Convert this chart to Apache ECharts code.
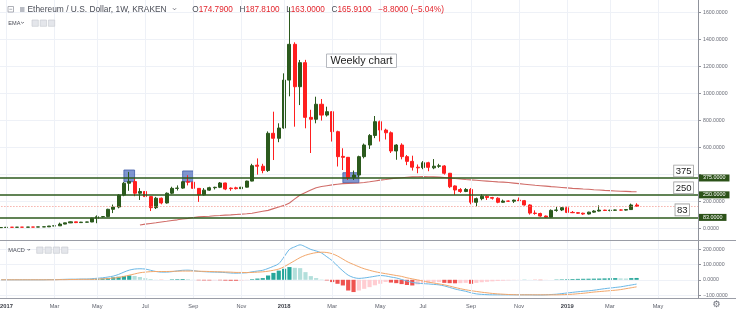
<!DOCTYPE html>
<html><head><meta charset="utf-8">
<script src="https://cdn.jsdelivr.net/npm/echarts@6.0.0/dist/echarts.min.js"></script>
<style>html,body{margin:0;padding:0;background:#fff;overflow:hidden}#c{width:736px;height:311px}</style>
</head><body><div id="c"></div>
<script>
// ---- categories: weekly bars (Mondays) ----
const firstWeek = Date.UTC(2016, 11, 26);
const weekCount = 131;
const categories = [];
for (let i = 0; i < weekCount; i++) {
  categories.push(new Date(firstWeek + i * 7 * 86400000).toISOString().slice(0, 10));
}

// ---- weekly OHLC ----
const opens = [7.2,8.2,10.2,9.7,10.6,10.5,11.4,11.3,12.8,13.1,
19.2,20.5,33.5,42.5,50,44.5,48,49,77,88,
89,143,160,248,336,348,262,275,237,155,
225,190,262,298,300,347,344,298,250,285,
303,306,338,300,302,296,307,352,470,462,
430,706,669,745,1100,1365,1051,1229,824,810,
921,841,866,718,535,528,378,397,533,619,
690,792,730,710,575,619,533,498,455,452,
488,450,462,464,410,316,290,275,290,195,
222,240,230,225,195,204,203,211,207,175,
115,112,93,85,135,138,155,120,118,114,
108,122,130,137,134,136,138,137,141,174.79];
const highs = [8.4,11.0,10.9,11.1,10.8,11.5,11.6,13.1,13.6,19.5,
21.0,44.0,43.0,53.0,50.5,50.0,50.0,80,98,92,
147,178,255,345,420,370,300,285,240,235,
230,268,310,320,352,395,350,300,300,310,
310,345,340,305,310,310,355,480,520,480,
720,866,780,1150,1640,1380,1249,1250,880,977,
960,903,870,725,595,530,430,540,630,700,
834,800,740,720,625,632,545,540,475,500,
495,515,480,470,412,320,300,300,300,230,
255,245,235,232,215,208,215,230,212,180,
135,118,97,142,160,160,162,130,122,118,
125,136,172,140,140,140,142,145,185,187.81];
const lows = [7.0,7.8,9.4,9.6,10.4,10.4,10.9,11.2,12.5,13.0,
17.5,20.0,32.0,41.0,41.0,41.5,46.0,48,40,83,
85,115,150,240,280,240,212,230,130,145,
180,185,255,282,295,320,285,198,245,280,
290,300,285,280,290,290,305,350,400,410,
420,508,640,740,980,755,915,743,560,780,
800,830,645,460,434,360,360,380,520,590,
670,645,660,560,510,513,470,430,410,440,
425,440,450,400,300,250,265,270,180,165,
210,212,215,188,192,198,190,205,170,104,
103,88,81,83,125,130,115,115,110,102,
105,118,127,130,128,131,133,133,139,163];
const closes = [8.2,10.2,9.7,10.6,10.5,11.4,11.3,12.8,13.1,19.2,
20.5,33.5,42.5,50.0,44.5,48.0,49.0,77,88,89,
143,160,248,336,348,262,275,237,155,225,
190,262,298,300,347,344,298,250,285,303,
306,338,293,296,296,307,352,466,462,430,
706,669,745,1100,1365,1051,1229,824,810,921,
841,866,718,533,528,375,397,533,619,690,
792,730,710,575,619,533,498,455,450,488,
454,462,465,410,310,286,275,290,195,222,
240,230,225,195,204,203,211,207,175,115,
112,93,85,135,138,155,120,118,114,108,
122,130,137,134,136,138,137,141,175,165.91];

// ---- EMA, starts at week 26 ----
const emaStart = 26;
const emaValues = [27,33,38,43,49,54,60,65,71,76,
82,87,90,92,95,97,100,102,105,107,
110,114,121,128,135,148,160,172,190,220,
249,268,286,303,312,318,324,329,333,335,
336,338,342,347,353,359,364,370,374,377,
380,383,384,385,384,383,381,378,375,371,
368,364,361,358,355,352,349,346,344,341,
337,333,329,325,321,318,315,311,308,305,
302,298,296,293,291,288,286,283,281,279,
277,276,274,273];

// ---- MACD pane ----
const macdLine = [0,0,0,0,0,0,0,0,0,1,
1,2,3,4,4,5,5,7,10,13,
18,24,35,50,63,70,72,70,62,54,
50,50,53,58,62,63,60,55,53,51,
50,49,47,44,43,44,46,52,57,62,
74,88,105,150,198,215,228,215,198,188,
175,150,125,90,58,30,15,9,12,17,
23,28,25,18,12,2,-8,-17,-22,-25,
-27,-30,-33,-40,-50,-60,-68,-75,-85,-92,
-95,-97,-98,-98,-98,-98,-98,-98,-98,-98,
-99,-99,-98,-96,-94,-90,-86,-82,-78,-75,
-72,-68,-63,-58,-54,-50,-46,-40,-34,-28];
const signalLine = [0,0,0,0,0,0,0,0,0,0,
0,1,1,2,2,3,3,3,4,6,
8,11,15,22,30,38,46,50,53,54,
54,54,55,56,57,57,57,56,55,54,
53,52,51,50,48,48,47,48,50,52,
56,62,70,85,105,125,145,160,170,177,
180,178,170,155,135,115,100,85,72,62,
53,46,40,34,28,22,13,6,-1,-8,
-15,-21,-27,-33,-41,-50,-58,-65,-71,-76,
-81,-85,-89,-92,-94,-96,-97,-98,-98,-98,
-98,-98,-98,-98,-98,-97,-96,-94,-91,-88,
-84,-80,-77,-74,-71,-68,-64,-58,-52,-46];
const histogram = [0,0,0,0,0,0,0,0,0,1,
1,1,2,2,1.5,1.5,2,4,6,9,
12,16,20,25,28,25,18,10,5,1,
-1,0,3,4,5,4,1,-3,-4,-4,
-3,-3,-5,-6,-6,-5,-2,4,8,11,
28,45,60,72,83,78,76,50,24,11,
2,-4,-15,-26,-37,-70,-80,-70,-59,-48,
-36,-26,-14,-18,-22,-28,-34,-37,-30,-24,
-20,-17,-15,-20,-22,-23,-22,-20,-26,-20,
-16,-13,-10,-8,-6,-4,-2,-1,1,0.5,
-1,-2,-1,0,2,3,4,5,6,6.5,
7,7.5,8,9,10,11,9,8,11,12];

// ---- ticks, levels, annotations ----
const tickDates = ['2017-01-02','2017-03-06','2017-05-01','2017-07-03','2017-09-04','2017-11-06','2018-01-01','2018-03-05','2018-05-07','2018-07-02','2018-09-03','2018-11-05','2019-01-07','2019-03-04','2019-05-06'];
const tickTexts = ['2017','Mar','May','Jul','Sep','Nov','2018','Mar','May','Jul','Sep','Nov','2019','Mar','May'];
const priceTicks = [0,200,400,600,800,1000,1200,1400,1600];
const priceLabels = [0,200,600,800,1000,1200,1400,1600];
const macdTicks = [-100,0,100,200];
const levels = [375, 250, 83];
const levelLabels = ['375', '250', '83'];
const lastClose = 165.91;
const boxFrom = ['2017-06-05','2017-08-21','2018-03-19'];
const boxTo = ['2017-06-19','2017-09-04','2018-04-09'];
const boxTop = [434, 427, 414];
const boxBottom = [347, 347, 340];

// ---- build ----
const FONT = 'Liberation Sans';
const candleData = opens.map((o, i) => [o, closes[i], lows[i], highs[i]]);
const emaData = categories.map((c, i) => (i >= emaStart && i - emaStart < emaValues.length) ? emaValues[i - emaStart] : null);
const vGrid = tickDates.map(d => ({ xAxis: d }));
const fmtPrice = v => (v < 0 ? '\u2212' + Math.abs(v).toFixed(4) : v.toFixed(4));

const levelMarks = [];
const boxDist = [[5, 1.5], [5, 1.5], [9, 2]];
levels.forEach((lv, k) => {
  levelMarks.push({
    yAxis: lv,
    lineStyle: { color: '#2c5a1c', width: 1.5, type: 'solid' },
    label: { show: true, position: 'end', formatter: lv.toFixed(4), color: '#fff',
      backgroundColor: '#2c5219', padding: [1.5, 4, 0.5, 4], fontSize: 5.4, fontFamily: FONT, distance: 1 }
  });
  levelMarks.push({
    yAxis: lv,
    lineStyle: { color: 'rgba(0,0,0,0)', width: 0 },
    label: { show: true, position: 'insideEndTop', formatter: levelLabels[k], color: '#222',
      backgroundColor: '#fff', borderColor: '#9a9a9a', borderWidth: 0.8, padding: [1, 1.5, 0, 1.5],
      fontSize: 9.5, fontFamily: FONT, distance: boxDist[k] }
  });
});
levelMarks.push({ yAxis: lastClose, lineStyle: { color: '#f28b82', type: [1, 2], width: 1 }, label: { show: false } });

const histColors = histogram.map((v, i) => {
  const p = i > 0 ? histogram[i - 1] : 0;
  if (v >= 0) return v >= p ? '#26a69a' : '#b2dfdb';
  return v <= p ? '#ef5350' : '#ffcdd2';
});

function chevron(x, y, w) {
  return { type: 'polyline', shape: { points: [[x, y], [x + w / 2, y + w / 2], [x + w, y]] }, style: { stroke: '#4a4d57', lineWidth: 0.8, fill: null }, z: 50 };
}
function iconBox(x, y) {
  return { type: 'rect', shape: { x: x, y: y, width: 6.3, height: 6.3 }, style: { fill: '#e4e6eb', stroke: '#c4c7ce', lineWidth: 0.6 }, z: 50 };
}

const chart = echarts.init(document.getElementById('c'), null, { renderer: 'canvas' });
const gridLine = { lineStyle: { color: '#eef1f7', width: 1, type: 'solid' }, symbol: ['none', 'none'], silent: true, label: { show: false }, animation: false };

chart.setOption({
  animation: false,
  backgroundColor: '#fff',
  textStyle: { fontFamily: FONT },
  grid: [
    { left: -1.6, width: 699.6, top: 0, height: 240, outerBoundsMode: 'none', containLabel: false },
    { left: -1.6, width: 699.6, top: 241, height: 57.5, outerBoundsMode: 'none', containLabel: false }
  ],
  xAxis: [
    { type: 'category', gridIndex: 0, data: categories, boundaryGap: true,
      axisLine: { show: false }, axisTick: { show: false }, axisLabel: { show: false }, splitLine: { show: false } },
    { type: 'category', gridIndex: 1, data: categories, boundaryGap: true,
      axisLine: { show: false }, axisTick: { show: false }, splitLine: { show: false },
      axisLabel: {
        show: true, margin: 5, fontSize: 5.6, color: '#5d606b', fontFamily: FONT,
        interval: (idx, val) => tickDates.indexOf(val) >= 0,
        formatter: val => { const t = tickTexts[tickDates.indexOf(val)]; return /^\d{4}$/.test(t) ? '{y|' + t + '}' : t; },
        rich: { y: { fontWeight: 'bold', fontSize: 5.8, color: '#3a3d46', fontFamily: FONT } }
      } }
  ],
  yAxis: [
    { type: 'value', gridIndex: 0, position: 'right', min: -84.4, max: 1693.3, scale: false,
      axisLine: { show: true, lineStyle: { color: '#8f929b', width: 1 } },
      axisTick: { show: true, length: 3, lineStyle: { color: '#8f929b' }, customValues: priceTicks },
      axisLabel: { show: true, margin: 5, fontSize: 5.2, color: '#6a6d78', fontFamily: FONT, customValues: priceLabels, formatter: fmtPrice },
      splitLine: { show: true, lineStyle: { color: '#eef1f7', width: 1 } } },
    { type: 'value', gridIndex: 1, position: 'right', min: -122, max: 253,
      axisLine: { show: true, lineStyle: { color: '#8f929b', width: 1 } },
      axisTick: { show: true, length: 3, lineStyle: { color: '#8f929b' }, customValues: macdTicks },
      axisLabel: { show: true, margin: 5, fontSize: 5.2, color: '#6a6d78', fontFamily: FONT, customValues: macdTicks, formatter: fmtPrice },
      splitLine: { show: true, lineStyle: { color: '#eef1f7', width: 1 } } }
  ],
  series: [
    { type: 'line', xAxisIndex: 0, yAxisIndex: 0, data: [], z: 1, markLine: Object.assign({ data: vGrid }, gridLine) },
    { type: 'line', xAxisIndex: 1, yAxisIndex: 1, data: [], z: 1, markLine: Object.assign({ data: vGrid }, gridLine) },
    { name: 'EMA', type: 'line', xAxisIndex: 0, yAxisIndex: 0, data: emaData, symbol: 'none', z: 2,
      lineStyle: { color: '#c8524e', width: 1.1, opacity: 0.85 } },
    { name: 'ETHUSD', type: 'candlestick', xAxisIndex: 0, yAxisIndex: 0, data: candleData, barWidth: '66%', z: 4,
      itemStyle: { color: '#2b5a1d', color0: '#ff1f1f', borderColor: '#2b5a1d', borderColor0: '#ff1f1f', borderWidth: 1 },
      markArea: { silent: true, itemStyle: { color: 'rgba(78,108,190,0.72)', borderColor: '#3f5ca8', borderWidth: 0.8 },
        data: boxFrom.map((f, k) => [{ xAxis: f, yAxis: boxTop[k] }, { xAxis: boxTo[k], yAxis: boxBottom[k] }]) },
      markLine: { silent: true, symbol: ['none', 'none'], animation: false, data: levelMarks, z: 6 } },
    { name: 'Histogram', type: 'bar', xAxisIndex: 1, yAxisIndex: 1, data: histogram, barWidth: '78%', z: 2,
      itemStyle: { color: p => histColors[p.dataIndex] } },
    { name: 'MACD', type: 'line', xAxisIndex: 1, yAxisIndex: 1, data: macdLine, symbol: 'none', smooth: 0.3, z: 3,
      lineStyle: { color: '#6cb8e6', width: 1 } },
    { name: 'Signal', type: 'line', xAxisIndex: 1, yAxisIndex: 1, data: signalLine, symbol: 'none', smooth: 0.3, z: 3,
      lineStyle: { color: '#f2a76b', width: 1 } }
  ],
  graphic: [
    // pane separators
    { type: 'line', shape: { x1: 0, y1: 240.5, x2: 736, y2: 240.5 }, style: { stroke: '#9a9da6', lineWidth: 1.2 }, z: 50 },
    { type: 'line', shape: { x1: 0, y1: 298.5, x2: 736, y2: 298.5 }, style: { stroke: '#9a9da6', lineWidth: 1 }, z: 50 },
    // header
    { type: 'rect', shape: { x: 8, y: 6.5, width: 5.5, height: 5.5 }, style: { fill: '#fff', stroke: '#9a9da6', lineWidth: 0.8 }, z: 50 },
    { type: 'line', shape: { x1: 9.3, y1: 9.25, x2: 12.2, y2: 9.25 }, style: { stroke: '#9a9da6', lineWidth: 0.8 }, z: 50 },
    { type: 'rect', shape: { x: 20, y: 7, width: 4.5, height: 5 }, style: { fill: '#b9bcc4' }, z: 50 },
    { type: 'text', x: 27.5, y: 9.5, z: 50, style: { text: 'Ethereum / U.S. Dollar, 1W, KRAKEN', fill: '#4a4d57', fontSize: 8.4, fontFamily: FONT, verticalAlign: 'middle' } },
    chevron(173, 8.3, 3),
    { type: 'text', x: 192.3, y: 9.5, z: 50, style: { text: '{a|O}{b|174.7900}  {a|H}{b|187.8100}  {a|L}{b|163.0000}  {a|C}{b|165.9100}  {b|\u22128.8000 (\u22125.04%)}', verticalAlign: 'middle',
      rich: { a: { fill: '#4a4d57', fontSize: 8.2, fontFamily: FONT }, b: { fill: '#e2242c', fontSize: 8.2, fontFamily: FONT } } } },
    { type: 'text', x: 8.3, y: 23, z: 50, style: { text: 'EMA', fill: '#4a4d57', fontSize: 5.6, fontFamily: FONT, verticalAlign: 'middle' } },
    chevron(21.2, 22, 2.6),
    iconBox(32, 20), iconBox(40.2, 20), iconBox(48.4, 20),
    { type: 'text', x: 8.3, y: 250, z: 50, style: { text: 'MACD', fill: '#4a4d57', fontSize: 5.6, fontFamily: FONT, verticalAlign: 'middle' } },
    chevron(27.5, 249, 2.6),
    iconBox(36.7, 247), iconBox(45, 247), iconBox(53.3, 247), iconBox(61.6, 247),
    // "Weekly chart" note
    { type: 'rect', shape: { x: 326.5, y: 54, width: 70, height: 13.5 }, style: { fill: '#fff', stroke: '#a5a8b0', lineWidth: 0.8 }, z: 50 },
    { type: 'text', x: 361.5, y: 61, z: 51, style: { text: 'Weekly chart', fill: '#222', fontSize: 10.8, fontFamily: FONT, align: 'center', verticalAlign: 'middle' } },
    // settings gear
    { type: 'text', x: 716.5, y: 305, z: 50, style: { text: '\u2699', fill: '#6a6d78', fontSize: 9, fontFamily: 'DejaVu Sans', align: 'center', verticalAlign: 'middle' } }
  ]
});
</script></body></html>
